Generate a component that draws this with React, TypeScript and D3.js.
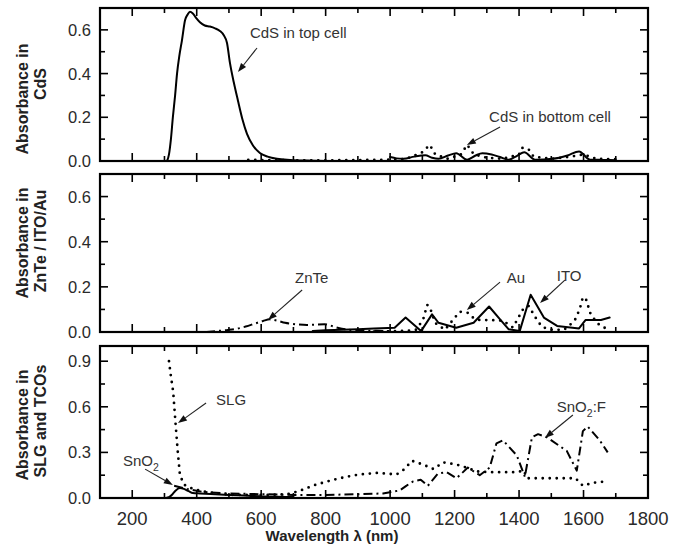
import React from 'react';
import * as d3 from 'd3';

// ---------- data ----------
const xMajorTicks = [200, 400, 600, 800, 1000, 1200, 1400, 1600, 1800];
const xMinorTicks = [100, 300, 500, 700, 900, 1100, 1300, 1500, 1700];

const yTicksTopMajor = [0, 0.2, 0.4, 0.6];
const yTicksTopMinor = [0.1, 0.3, 0.5];
const yTicksBotMajor = [0, 0.3, 0.6, 0.9];
const yTicksBotMinor = [0.15, 0.45, 0.75];

// Panel 1 – CdS
const cdsTopNm = [308, 314, 320, 326, 333, 339, 346, 354, 364, 372, 379, 388, 398, 410, 425, 441, 457, 472, 484, 494, 503, 515, 528, 542, 556, 575, 596, 620, 649, 690, 740, 800];
const cdsTopAbs = [0, 0.03, 0.1, 0.2, 0.3, 0.4, 0.48, 0.55, 0.645, 0.67, 0.683, 0.675, 0.655, 0.635, 0.62, 0.615, 0.607, 0.595, 0.575, 0.54, 0.45, 0.36, 0.276, 0.19, 0.124, 0.07, 0.037, 0.02, 0.01, 0.005, 0.002, 0];

const cdsBotNm = [1000, 1020, 1041, 1075, 1109, 1130, 1150, 1180, 1205, 1239, 1265, 1286, 1315, 1341, 1368, 1395, 1416, 1450, 1504, 1550, 1586, 1620, 1660, 1700];
const cdsBotAbs = [0.018, 0.012, 0.01, 0.02, 0.026, 0.015, 0.01, 0.025, 0.036, 0.006, 0.025, 0.036, 0.03, 0.018, 0.006, 0.025, 0.04, 0.006, 0.01, 0.025, 0.044, 0.006, 0.005, 0.004];

const cdsDotNm = [560, 620, 700, 800, 900, 1000, 1050, 1100, 1123, 1140, 1180, 1220, 1239, 1260, 1300, 1350, 1400, 1410, 1429, 1445, 1500, 1560, 1600, 1640, 1700];
const cdsDotAbs = [0.005, 0.004, 0.003, 0.003, 0.004, 0.006, 0.01, 0.04, 0.074, 0.03, 0.01, 0.03, 0.074, 0.03, 0.015, 0.01, 0.03, 0.06, 0.055, 0.02, 0.01, 0.02, 0.03, 0.01, 0.008];

// Panel 2 – ZnTe / ITO / Au
const znteNm = [429, 460, 497, 530, 552, 580, 606, 627, 650, 674, 710, 742, 770, 797, 837, 878, 920, 960, 1000];
const znteAbs = [0, 0.004, 0.009, 0.016, 0.024, 0.037, 0.049, 0.056, 0.05, 0.041, 0.034, 0.031, 0.033, 0.034, 0.019, 0.009, 0.006, 0.005, 0.004];

const itoNm = [760, 800, 850, 900, 950, 1014, 1048, 1096, 1130, 1150, 1205, 1259, 1307, 1341, 1368, 1402, 1436, 1477, 1518, 1586, 1606, 1654, 1681];
const itoAbs = [0.004, 0.008, 0.01, 0.012, 0.015, 0.019, 0.064, 0.004, 0.078, 0.041, 0.019, 0.041, 0.113, 0.056, 0.012, 0.004, 0.165, 0.064, 0.027, 0.016, 0.053, 0.053, 0.064];

const auNm = [950, 1000, 1050, 1080, 1102, 1115, 1123, 1140, 1170, 1216, 1241, 1260, 1278, 1309, 1350, 1381, 1412, 1430, 1450, 1471, 1505, 1540, 1572, 1588, 1598, 1610, 1619, 1641, 1672];
const auAbs = [0.002, 0.003, 0.005, 0.01, 0.053, 0.12, 0.11, 0.04, 0.01, 0.09, 0.085, 0.06, 0.053, 0.053, 0.05, 0.02, 0.1, 0.115, 0.066, 0.022, 0.009, 0.01, 0.049, 0.1, 0.155, 0.14, 0.088, 0.04, 0.013];

// Panel 3 – SLG and TCOs
const slgNm = [314, 320, 327, 334, 341, 348, 361, 388, 429, 497, 560, 620, 680, 715, 769, 824, 865, 905, 960, 1020, 1045, 1067, 1102, 1135, 1164, 1206, 1237, 1268, 1309, 1350, 1393, 1415, 1424, 1460, 1510, 1575, 1598, 1629, 1672];
const slgAbs = [0.9, 0.8, 0.7, 0.5, 0.31, 0.15, 0.087, 0.06, 0.04, 0.022, 0.02, 0.02, 0.025, 0.044, 0.087, 0.12, 0.14, 0.155, 0.165, 0.155, 0.19, 0.245, 0.22, 0.19, 0.235, 0.22, 0.2, 0.175, 0.17, 0.17, 0.17, 0.18, 0.13, 0.13, 0.13, 0.13, 0.08, 0.1, 0.11];

const sno2fNm = [330, 370, 420, 500, 600, 700, 800, 900, 978, 1030, 1050, 1072, 1095, 1117, 1148, 1175, 1206, 1241, 1278, 1309, 1330, 1350, 1393, 1418, 1440, 1459, 1486, 1548, 1579, 1598, 1613, 1650, 1675];
const sno2fAbs = [0.08, 0.06, 0.04, 0.03, 0.025, 0.02, 0.02, 0.025, 0.03, 0.05, 0.08, 0.11, 0.12, 0.08, 0.16, 0.17, 0.13, 0.2, 0.15, 0.2, 0.36, 0.38, 0.28, 0.14, 0.4, 0.42, 0.4, 0.31, 0.18, 0.44, 0.47, 0.38, 0.3];

const sno2Nm = [305, 314, 325, 335, 348, 360, 375, 388, 410, 443, 500, 560, 606, 650, 700];
const sno2Abs = [0, 0.005, 0.025, 0.05, 0.065, 0.06, 0.045, 0.033, 0.03, 0.026, 0.02, 0.015, 0.01, 0.008, 0.006];

// ---------- layout ----------
const W = 686, H = 544;
const X0 = 100, X1 = 648;
const FONT = 'Arial, "Liberation Sans", Helvetica, sans-serif';

const x = d3.scaleLinear().domain([100, 1800]).range([X0, X1]);

type Series = { nm: number[]; v: number[]; style: 'solid' | 'dot' | 'dashdot'; curve?: any };
type Ann = { text: string; sub?: string; after?: string; tx: number; ty: number; ax0: number; ay0: number; ax1: number; ay1: number };
type Panel = {
  top: number; bottom: number; ymax: number;
  major: number[]; minor: number[]; fmt: (v: number) => string;
  label1: string; label2: string; l1y: number; l2y: number;
  series: Series[]; anns: Ann[]; xLabels?: boolean;
};

const panels: Panel[] = [
  {
    top: 8, bottom: 161, ymax: 0.7, major: yTicksTopMajor, minor: yTicksTopMinor, fmt: d3.format('.1f'),
    label1: 'Absorbance in', label2: 'CdS', l1y: 99, l2y: 84,
    series: [
      { nm: cdsTopNm, v: cdsTopAbs, style: 'solid', curve: d3.curveMonotoneX },
      { nm: cdsBotNm, v: cdsBotAbs, style: 'solid', curve: d3.curveMonotoneX },
      { nm: cdsDotNm, v: cdsDotAbs, style: 'dot' },
    ],
    anns: [
      { text: 'CdS in top cell', tx: 565, ty: 0.586, ax0: 587, ay0: 0.517, ax1: 528, ay1: 0.407 },
      { text: 'CdS in bottom cell', tx: 1307, ty: 0.201, ax0: 1341, ay0: 0.156, ax1: 1238, ay1: 0.073 },
    ],
  },
  {
    top: 174, bottom: 332, ymax: 0.7, major: yTicksTopMajor, minor: yTicksTopMinor, fmt: d3.format('.1f'),
    label1: 'Absorbance in', label2: 'ZnTe / ITO/Au', l1y: 243, l2y: 241,
    series: [
      { nm: znteNm, v: znteAbs, style: 'dashdot', curve: d3.curveMonotoneX },
      { nm: itoNm, v: itoAbs, style: 'solid' },
      { nm: auNm, v: auAbs, style: 'dot' },
    ],
    anns: [
      { text: 'ZnTe', tx: 705, ty: 0.239, ax0: 727, ay0: 0.186, ax1: 621, ay1: 0.053 },
      { text: 'Au', tx: 1362, ty: 0.239, ax0: 1341, ay0: 0.221, ax1: 1238, ay1: 0.097 },
      { text: 'ITO', tx: 1517, ty: 0.252, ax0: 1542, ay0: 0.23, ax1: 1465, ay1: 0.128 },
    ],
  },
  {
    top: 346, bottom: 498, ymax: 1.0, major: yTicksBotMajor, minor: yTicksBotMinor, fmt: d3.format('.1f'),
    label1: 'Absorbance  in', label2: 'SLG and TCOs', l1y: 425, l2y: 421,
    series: [
      { nm: slgNm, v: slgAbs, style: 'dot' },
      { nm: sno2fNm, v: sno2fAbs, style: 'dashdot' },
      { nm: sno2Nm, v: sno2Abs, style: 'solid', curve: d3.curveMonotoneX },
    ],
    anns: [
      { text: 'SLG', tx: 460, ty: 0.645, ax0: 429, ay0: 0.625, ax1: 342, ay1: 0.493 },
      { text: 'SnO', sub: '2', tx: 171, ty: 0.243, ax0: 240, ay0: 0.19, ax1: 326, ay1: 0.085 },
      { text: 'SnO', sub: '2', after: ':F', tx: 1517, ty: 0.6, ax0: 1567, ay0: 0.546, ax1: 1480, ay1: 0.395 },
    ],
    xLabels: true,
  },
];

const styleProps = (s: Series['style']) => {
  if (s === 'dot') return { strokeWidth: 2.8, strokeDasharray: '0 7', strokeLinecap: 'round' as const };
  if (s === 'dashdot') return { strokeWidth: 2, strokeDasharray: '9 4 2 4', strokeLinecap: 'butt' as const };
  return { strokeWidth: 2, strokeLinecap: 'round' as const };
};

function Arrow({ x0, y0, x1, y1 }: { x0: number; y0: number; x1: number; y1: number }) {
  const ang = Math.atan2(y1 - y0, x1 - x0);
  const len = 9, half = 3.2;
  const bx = x1 - len * Math.cos(ang), by = y1 - len * Math.sin(ang);
  const px = -Math.sin(ang) * half, py = Math.cos(ang) * half;
  return (
    <g>
      <line x1={x0} y1={y0} x2={bx} y2={by} stroke="#222" strokeWidth={1.1} />
      <polygon points={`${x1},${y1} ${bx + px},${by + py} ${bx - px},${by - py}`} fill="#111" />
    </g>
  );
}

function PanelView({ p }: { p: Panel }) {
  const y = d3.scaleLinear().domain([0, p.ymax]).range([p.bottom, p.top]);
  const MAJ = 8, MIN = 5;
  return (
    <g>
      {p.series.map((s, i) => {
        const line = d3.line<number>()
          .x((_, k) => x(s.nm[k]))
          .y((_, k) => y(s.v[k]))
          .curve(s.curve || d3.curveLinear);
        return <path key={i} d={line(s.v) || ''} fill="none" stroke="#000" strokeLinejoin="round" {...styleProps(s.style)} />;
      })}
      {xMajorTicks.concat(xMinorTicks).filter(t => t > 100 && t < 1800).map((t) => {
        const len = xMajorTicks.includes(t) ? MAJ : MIN;
        return (
          <g key={'xt' + t}>
            <line x1={x(t)} x2={x(t)} y1={p.bottom} y2={p.bottom - len} stroke="#000" strokeWidth={1.6} />
            <line x1={x(t)} x2={x(t)} y1={p.top} y2={p.top + len} stroke="#000" strokeWidth={1.6} />
          </g>
        );
      })}
      {p.major.concat(p.minor).filter(t => t > 0 && t < p.ymax).map((t) => {
        const len = p.major.includes(t) ? MAJ : MIN;
        return (
          <g key={'yt' + t}>
            <line x1={X0} x2={X0 + len} y1={y(t)} y2={y(t)} stroke="#000" strokeWidth={1.6} />
            <line x1={X1} x2={X1 - len} y1={y(t)} y2={y(t)} stroke="#000" strokeWidth={1.6} />
          </g>
        );
      })}
      <rect x={X0} y={p.top} width={X1 - X0} height={p.bottom - p.top} fill="none" stroke="#000" strokeWidth={2.2} />
      {p.major.map((t) => (
        <text key={'yl' + t} x={X0 - 9} y={y(t)} dy="0.36em" textAnchor="end" fontFamily={FONT} fontSize={16.5} fill="#2a2a2a">{p.fmt(t)}</text>
      ))}
      {p.xLabels && xMajorTicks.map((t) => (
        <text key={'xl' + t} x={x(t)} y={p.bottom + 27} textAnchor="middle" fontFamily={FONT} fontSize={18.5} fill="#2a2a2a">{t}</text>
      ))}
      <text transform={`translate(22,${p.l1y}) rotate(-90)`} textAnchor="middle" dominantBaseline="central" fontFamily={FONT} fontWeight="bold" fontSize={16} fill="#222">{p.label1}</text>
      <text transform={`translate(40,${p.l2y}) rotate(-90)`} textAnchor="middle" dominantBaseline="central" fontFamily={FONT} fontWeight="bold" fontSize={16} fill="#222">{p.label2}</text>
      {p.anns.map((a, i) => (
        <g key={'an' + i}>
          <text x={x(a.tx)} y={y(a.ty)} dy="0.36em" fontFamily={FONT} fontSize={15} fill="#333">
            {a.text}
            {a.sub && <tspan fontSize={10.5} dy="5">{a.sub}</tspan>}
            {a.after && <tspan dy="-5">{a.after}</tspan>}
          </text>
          <Arrow x0={x(a.ax0)} y0={y(a.ay0)} x1={x(a.ax1)} y1={y(a.ay1)} />
        </g>
      ))}
    </g>
  );
}

export default function App() {
  return (
    <svg width={W} height={H} style={{ position: 'absolute', left: 0, top: 0, background: '#fff' }}>
      <rect x={0} y={0} width={W} height={H} fill="#fff" />
      {panels.map((p, i) => <PanelView key={i} p={p} />)}
      <text x={332} y={541} textAnchor="middle" fontFamily={FONT} fontWeight="bold" fontSize={15} fill="#222">Wavelength λ (nm)</text>
    </svg>
  );
}
